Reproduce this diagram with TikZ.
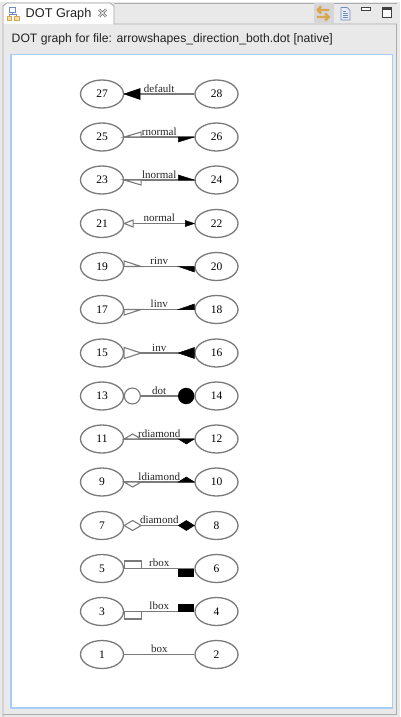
\documentclass[tikz,border=0pt]{standalone}
\usepackage{fontspec}
\setmainfont{Liberation Serif}
\newfontfamily\uifont{Liberation Sans}
\definecolor{chrome}{HTML}{E9E9E9}
\definecolor{chromeline}{HTML}{ACACAC}
\definecolor{focusblue}{HTML}{A5CDF7}
\definecolor{edgegrey}{HTML}{7A7A7A}
\definecolor{uitext}{HTML}{222222}
\definecolor{iconorange}{HTML}{D9A650}
\definecolor{iconfill}{HTML}{F5DFA8}
\definecolor{iconblue}{HTML}{6E8FB5}
\tikzset{
 x=1pt,y=-1pt,
 gnode/.style={draw=edgegrey,line width=1.3pt,ellipse,minimum width=43pt,minimum height=28pt,inner sep=0pt,font=\fontsize{11.5}{12}\selectfont},
 glink/.style={draw=edgegrey,line width=1.2pt},
 glabel/.style={font=\fontsize{11}{11}\selectfont,inner sep=0pt,text=black!85},
 openhead/.style={draw=edgegrey,line width=1.1pt,fill=white,line join=miter},
 solidhead/.style={draw=black,line width=.5pt,fill=black,line join=miter},
 uilabel/.style={font=\uifont\fontsize{12.2}{13}\selectfont,text=uitext,inner sep=0pt,anchor=west},
}
\usetikzlibrary{shapes.geometric}
% \gpair{left}{right}{y}{label}
\newcommand{\gpair}[4]{%
 \node[gnode] (n#1) at (102,#3) {#1};
 \node[gnode] (n#2) at (216.5,#3) {#2};
 \draw[glink] (n#1.east) -- node[glabel,pos=.5,yshift=5.5pt] (l#1) {#4} (n#2.west);
}
\begin{document}
\begin{tikzpicture}
\useasboundingbox (0,0) rectangle (400,717);
% window chrome
\fill[chrome] (0,0) rectangle (400,717);
\fill[white] (3.5,5) -- (7,3.5) -- (110,3.5) -- (113.5,5) -- (113.5,24) -- (3.5,24) -- cycle;
\draw[chromeline,line width=.9pt] (3,717) -- (3,6) -- (7,3) -- (110,3) -- (114,6) -- (114,24) -- (396.5,24) -- (396.5,714.5) -- (3,714.5);
\draw[chromeline,line width=.7pt] (114,3) -- (397,3);
\fill[white] (0,0) rectangle (400,2);
% tab icon
\draw[iconblue,line width=.9pt] (9,7.5) rectangle (15,12);
\draw[iconblue,line width=.7pt] (12,12) -- (12,14.5) (9,16) -- (9,14.5) -- (16,14.5) -- (16,16);
\draw[iconorange,fill=iconfill,line width=.9pt] (7,16) rectangle (11.5,20) (14,16) rectangle (19,20);
\node[uilabel,font=\uifont\fontsize{12.7}{14}\selectfont] (tabtext) at (25.5,14.5) {DOT Graph};
% close icon
\draw[black!65,line width=2.2pt] (99,9.5) -- (106,16.5) (106,9.5) -- (99,16.5);
\draw[white,line width=.9pt] (99,9.5) -- (106,16.5) (106,9.5) -- (99,16.5);
% toolbar buttons
\fill[black!16] (313.5,3.5) rectangle (333.5,24);
\draw[iconorange,line width=2.2pt,line join=round] (329,10) -- (319,10) (321,6.5) -- (317.5,10) -- (321,13.5) (317,17) -- (328,17) (325,13.5) -- (329,17) -- (325,20.5);
\fill[blue!8!white] (341,7.5) -- (347,7.5) -- (350,10.5) -- (350,20) -- (341,20) -- cycle;
\draw[iconblue,line width=.7pt] (341,7.5) -- (347,7.5) -- (350,10.5) -- (350,20) -- (341,20) -- cycle;
\draw[iconblue,line width=.6pt] (343,11) -- (346,11) (343,13) -- (348,13) (343,15) -- (348,15) (343,17) -- (348,17);
\draw[black!75,line width=1pt,fill=white] (361,8) rectangle (370,11);
\draw[black!75,line width=1pt,fill=white] (382.5,8) rectangle (391.5,17.5);
\draw[black!75,line width=2pt] (382.5,9) -- (391.5,9);
% heading
\node[uilabel] (heading) at (11.5,39) {DOT graph for file: arrowshapes\_direction\_both.dot [native]};
% canvas
\draw[focusblue,line width=1.6pt,fill=white] (11,54.5) rectangle (392.5,708);
% graph
\gpair{27}{28}{94}{default}
\gpair{25}{26}{137}{rnormal}
\gpair{23}{24}{180}{lnormal}
\gpair{21}{22}{223.5}{normal}
\gpair{19}{20}{266.5}{rinv}
\gpair{17}{18}{309.5}{linv}
\gpair{15}{16}{353}{inv}
\gpair{13}{14}{396}{dot}
\gpair{11}{12}{439}{rdiamond}
\gpair{9}{10}{482}{ldiamond}
\gpair{7}{8}{525.5}{diamond}
\gpair{5}{6}{568.5}{rbox}
\gpair{3}{4}{611.5}{lbox}
\gpair{1}{2}{654.5}{box}
% default
\draw[solidhead] (n27.east) -- ++(16,-5.5) -- ++(0,11) -- cycle;
% rnormal
\draw[openhead] (n25.east) -- ++(17,-5) -- ++(0,5) -- cycle;
\draw[solidhead] (n26.west) -- ++(-16,5) -- ++(0,-5) -- cycle;
% lnormal
\draw[openhead] (n23.east) -- ++(17,5) -- ++(0,-5) -- cycle;
\draw[solidhead] (n24.west) -- ++(-16,-5) -- ++(0,5) -- cycle;
% normal
\draw[openhead] (n21.east) -- ++(9,-3.5) -- ++(0,7) -- cycle;
\draw[solidhead] (n22.west) -- ++(-9,-3) -- ++(0,6) -- cycle;
% rinv
\draw[openhead] (n19.east) -- ++(0,-5.5) -- ++(17,5.5) -- cycle;
\draw[solidhead] (n20.west) -- ++(0,5.5) -- ++(-16,-5.5) -- cycle;
% linv
\draw[openhead] (n17.east) -- ++(0,5.5) -- ++(17,-5.5) -- cycle;
\draw[solidhead] (n18.west) -- ++(0,-5.5) -- ++(-16,5.5) -- cycle;
% inv
\draw[openhead] (n15.east) ++(0,-5.5) -- ++(17,5.5) -- ++(-17,5.5) -- cycle;
\draw[solidhead] (n16.west) ++(0,-5.5) -- ++(-16,5.5) -- ++(16,5.5) -- cycle;
% dot
\draw[openhead] (n13.east) ++(8.2,0) circle[radius=8];
\fill[black] (n14.west) ++(-8.2,0) circle[radius=8.2];
% rdiamond
\draw[openhead] (n11.east) -- ++(8.5,-5) -- ++(8.5,5) -- cycle;
\draw[solidhead] (n12.west) -- ++(-8,5) -- ++(-8,-5) -- cycle;
% ldiamond
\draw[openhead] (n9.east) -- ++(8.5,5) -- ++(8.5,-5) -- cycle;
\draw[solidhead] (n10.west) -- ++(-8,-5) -- ++(-8,5) -- cycle;
% diamond
\draw[openhead] (n7.east) -- ++(8.5,-5) -- ++(8.5,5) -- ++(-8.5,5) -- cycle;
\draw[solidhead] (n8.west) -- ++(-8,-5) -- ++(-8,5) -- ++(8,5) -- cycle;
% rbox
\draw[openhead] (n5.east) ++(.5,0) rectangle ++(16.5,-7.5);
\fill[black] (n6.west) rectangle ++(-16,8);
% lbox
\draw[openhead] (n3.east) ++(.5,0) rectangle ++(16.5,7.5);
\fill[black] (n4.west) rectangle ++(-16,-8);
\end{tikzpicture}
\end{document}
